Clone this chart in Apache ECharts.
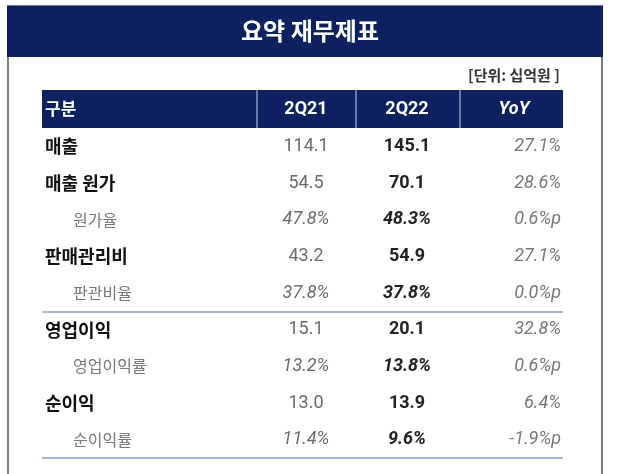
<!DOCTYPE html>
<html>
<head>
<meta charset="utf-8">
<script src="https://cdn.jsdelivr.net/npm/echarts@6/dist/echarts.min.js"></script>
<style>
  html, body { margin: 0; padding: 0; background: #ffffff; }
  #chart { width: 620px; height: 474px; }
</style>
</head>
<body>
<div id="chart"></div>
<script>
// table content
const title = '요약 재무제표';
const unitNote = '[단위: 십억원 ]';
const columns = ['구분', '2Q21', '2Q22', 'YoY'];
const rowLabels = ['매출', '매출 원가', '원가율', '판매관리비', '판관비율', '영업이익', '영업이익률', '순이익', '순이익률'];
const isRatio = [false, false, true, false, true, false, true, false, true];
const val2Q21 = [114.1, 54.5, 47.8, 43.2, 37.8, 15.1, 13.2, 13.0, 11.4];
const val2Q22 = [145.1, 70.1, 48.3, 54.9, 37.8, 20.1, 13.8, 13.9, 9.6];
const yoy = [27.1, 28.6, 0.6, 27.1, 0.0, 32.8, 0.6, 6.4, -1.9];

const NAVY = '#0d2160';
const NUM_FONT = 'Roboto, "Noto Sans CJK KR", sans-serif';
const KR_FONT = '"Noto Sans CJK KR", "Noto Sans", sans-serif';

// column anchors (x on the hidden value axis, which runs 42..563)
const X_MAIN = 45, X_SUB = 73, X_C1 = 306, X_C2 = 407, X_YOY = 561;

const fmtVal = (v, i) => v.toFixed(1) + (isRatio[i] ? '%' : '');
const fmtYoy = (v, i) => v.toFixed(1) + (isRatio[i] ? '%p' : '%');

function textSeries(texts, xFn, align, styleFn) {
    return {
        type: 'custom',
        coordinateSystem: 'cartesian2d',
        silent: true,
        data: texts.map((t, i) => [xFn(i), i]),
        renderItem: (params, api) => {
            const p = api.coord([api.value(0), api.value(1)]);
            const i = params.dataIndex;
            return {
                type: 'text',
                x: p[0],
                y: p[1],
                style: Object.assign({
                    text: texts[i],
                    align: align,
                    verticalAlign: 'middle'
                }, styleFn(i))
            };
        }
    };
}

const chart = echarts.init(document.getElementById('chart'));

const option = {
    animation: false,
    backgroundColor: '#ffffff',
    title: {
        text: title,
        left: 'center',
        top: 14,
        textStyle: { color: '#ffffff', fontSize: 24, fontWeight: 'bold', fontFamily: KR_FONT }
    },
    grid: { left: 42, right: 57, top: 128, bottom: 16 },
    xAxis: { type: 'value', min: 42, max: 563, show: false },
    yAxis: { type: 'category', data: rowLabels, inverse: true, show: false },
    graphic: [
        // outer frame
        { type: 'rect', z: -10, shape: { x: 8, y: 6, width: 594, height: 480 },
          style: { fill: '#ffffff', stroke: '#777d8c', lineWidth: 2 } },
        // title bar
        { type: 'rect', z: -9, shape: { x: 7, y: 6, width: 596, height: 51 }, style: { fill: NAVY } },
        // unit note
        { type: 'text', x: 560, y: 75, style: { text: unitNote, align: 'right', verticalAlign: 'middle',
          fill: '#333333', font: 'bold 15px ' + KR_FONT } },
        // header row
        { type: 'rect', z: -9, shape: { x: 42, y: 90, width: 521, height: 38 }, style: { fill: NAVY } },
        { type: 'line', shape: { x1: 257, y1: 90, x2: 257, y2: 128 }, style: { stroke: '#c9d2ea', lineWidth: 1 } },
        { type: 'line', shape: { x1: 356, y1: 90, x2: 356, y2: 128 }, style: { stroke: '#c9d2ea', lineWidth: 1 } },
        { type: 'line', shape: { x1: 460, y1: 90, x2: 460, y2: 128 }, style: { stroke: '#c9d2ea', lineWidth: 1 } },
        { type: 'text', x: 45, y: 109, style: { text: columns[0], align: 'left', verticalAlign: 'middle',
          fill: '#ffffff', font: 'bold 17px ' + KR_FONT } },
        { type: 'text', x: 306, y: 109, style: { text: columns[1], align: 'center', verticalAlign: 'middle',
          fill: '#ffffff', font: 'bold 18px ' + NUM_FONT } },
        { type: 'text', x: 407, y: 109, style: { text: columns[2], align: 'center', verticalAlign: 'middle',
          fill: '#ffffff', font: 'bold 18px ' + NUM_FONT } },
        { type: 'text', x: 514, y: 109, style: { text: columns[3], align: 'center', verticalAlign: 'middle',
          fill: '#ffffff', font: 'italic bold 18px ' + NUM_FONT } },
        // group separator lines
        { type: 'line', shape: { x1: 42, y1: 312, x2: 563, y2: 312 }, style: { stroke: '#a9b8da', lineWidth: 2 } },
        { type: 'line', shape: { x1: 42, y1: 458, x2: 563, y2: 458 }, style: { stroke: '#a9b8da', lineWidth: 2 } }
    ],
    series: [
        textSeries(rowLabels, i => isRatio[i] ? X_SUB : X_MAIN, 'left', i => isRatio[i]
            ? { fill: '#777777', font: '16px ' + KR_FONT }
            : { fill: '#111111', font: 'bold 18px ' + KR_FONT }),
        textSeries(val2Q21.map(fmtVal), () => X_C1, 'center', i => ({
            fill: '#6a6a6a', font: (isRatio[i] ? 'italic ' : '') + '18px ' + NUM_FONT })),
        textSeries(val2Q22.map(fmtVal), () => X_C2, 'center', i => ({
            fill: '#222222', font: (isRatio[i] ? 'italic ' : '') + 'bold 18px ' + NUM_FONT })),
        textSeries(yoy.map(fmtYoy), () => X_YOY, 'right', () => ({
            fill: '#777777', font: 'italic 18px ' + NUM_FONT }))
    ]
};

chart.setOption(option);
</script>
</body>
</html>
